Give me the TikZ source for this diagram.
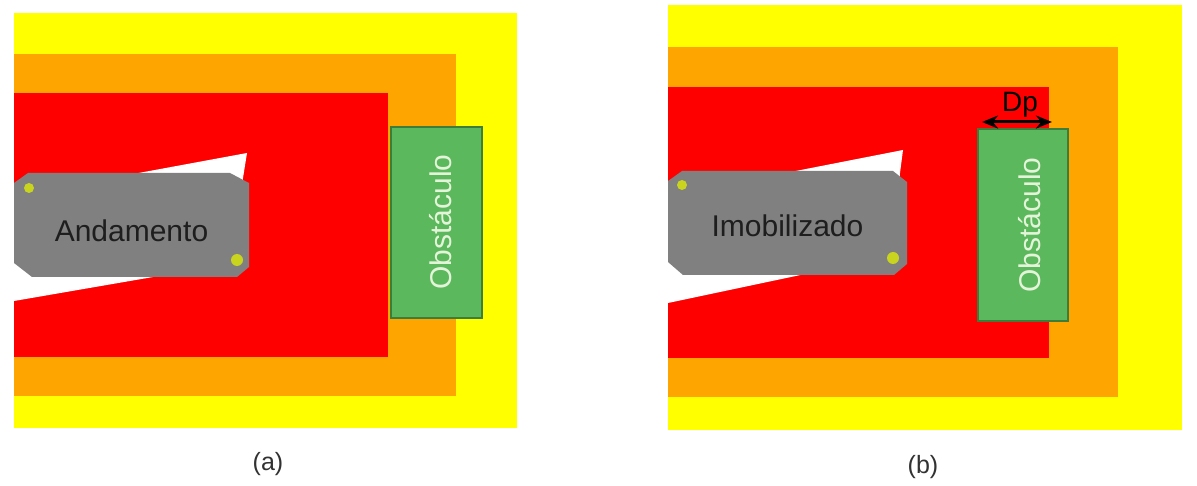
\documentclass[tikz,border=0pt]{standalone}
\usepackage{fontspec}
\setmainfont{Liberation Sans}
\usetikzlibrary{arrows.meta}
\definecolor{zyellow}{RGB}{255,255,0}
\definecolor{zorange}{RGB}{255,165,0}
\definecolor{zred}{RGB}{255,0,0}
\definecolor{robotgray}{RGB}{128,128,128}
\definecolor{obsgreen}{RGB}{92,184,92}
\definecolor{obsborder}{RGB}{60,125,60}
\definecolor{obstext}{RGB}{228,244,218}
\definecolor{dotcol}{RGB}{200,212,30}
\definecolor{textdark}{RGB}{30,30,30}
\definecolor{captext}{RGB}{50,50,50}
\tikzset{
  robottext/.style={anchor=base, font=\fontsize{30}{36}\selectfont, text=textdark, inner sep=0pt},
  obstacletext/.style={anchor=base, rotate=90, font=\fontsize{30}{36}\selectfont, text=obstext, inner sep=0pt},
  obstaclebox/.style={draw=obsborder, fill=obsgreen, line width=1.5pt},
  sensordot/.style={fill=dotcol},
  captiontext/.style={anchor=base, font=\fontsize{25}{30}\selectfont, text=captext, inner sep=0pt},
  dparrow/.style={{Stealth[length=16pt,width=13pt]}-{Stealth[length=16pt,width=13pt]}, line width=3pt, black}
}
\begin{document}
\begin{tikzpicture}[x=1pt,y=-1pt]
\useasboundingbox (0,0) rectangle (1197,486);
\fill[white] (0,0) rectangle (1197,486);

% ---------------- panel (a)
\fill[zyellow] (14,13) rectangle (517,428);
\fill[zorange] (14,54) rectangle (456,396);
\fill[zred] (14,93) rectangle (388,357);
\fill[white] (14,196) -- (247,153) -- (243,178) -- (240,262) -- (14,301) -- cycle;
\fill[robotgray] (28,173) -- (230,173) -- (249,183) -- (249,267) -- (237,277) -- (32,277) -- (14,263) -- (14,183) -- cycle;
\fill[sensordot] (29,188) circle (5);
\fill[sensordot] (237,260) circle (6);
\node[robottext] (andamento) at (131.5,242) {Andamento};
\draw[obstaclebox] (391,127) rectangle (482,318);
\node[obstacletext] (obsA) at (451,222) {Obstáculo};
\node[captiontext] (capA) at (268,470) {(a)};

% ---------------- panel (b)
\fill[zyellow] (668,5) rectangle (1182,430);
\fill[zorange] (668,47) rectangle (1118,397);
\fill[zred] (668,87) rectangle (1049,358);
\fill[white] (668,196) -- (903,150) -- (900,173) -- (895,255) -- (668,303) -- cycle;
\fill[robotgray] (682,171) -- (893,171) -- (907,182) -- (907,264) -- (894,275) -- (683,275) -- (668,262) -- (668,181) -- cycle;
\fill[sensordot] (682,185) circle (5);
\fill[sensordot] (893,258) circle (6);
\node[robottext] (imob) at (787.5,237) {Imobilizado};
\draw[obstaclebox] (978,129) rectangle (1068,321);
\node[obstacletext] (obsB) at (1040,225) {Obstáculo};
\coordinate (dpl) at (982,122);
\coordinate (dpr) at (1052,122);
\draw[dparrow] (dpl) -- (dpr);
\node[anchor=base, font=\fontsize{28}{32}\selectfont, text=black, inner sep=0pt] (dp) at (1020,112) {Dp};
\node[captiontext] (capB) at (923,473) {(b)};
\end{tikzpicture}
\end{document}
